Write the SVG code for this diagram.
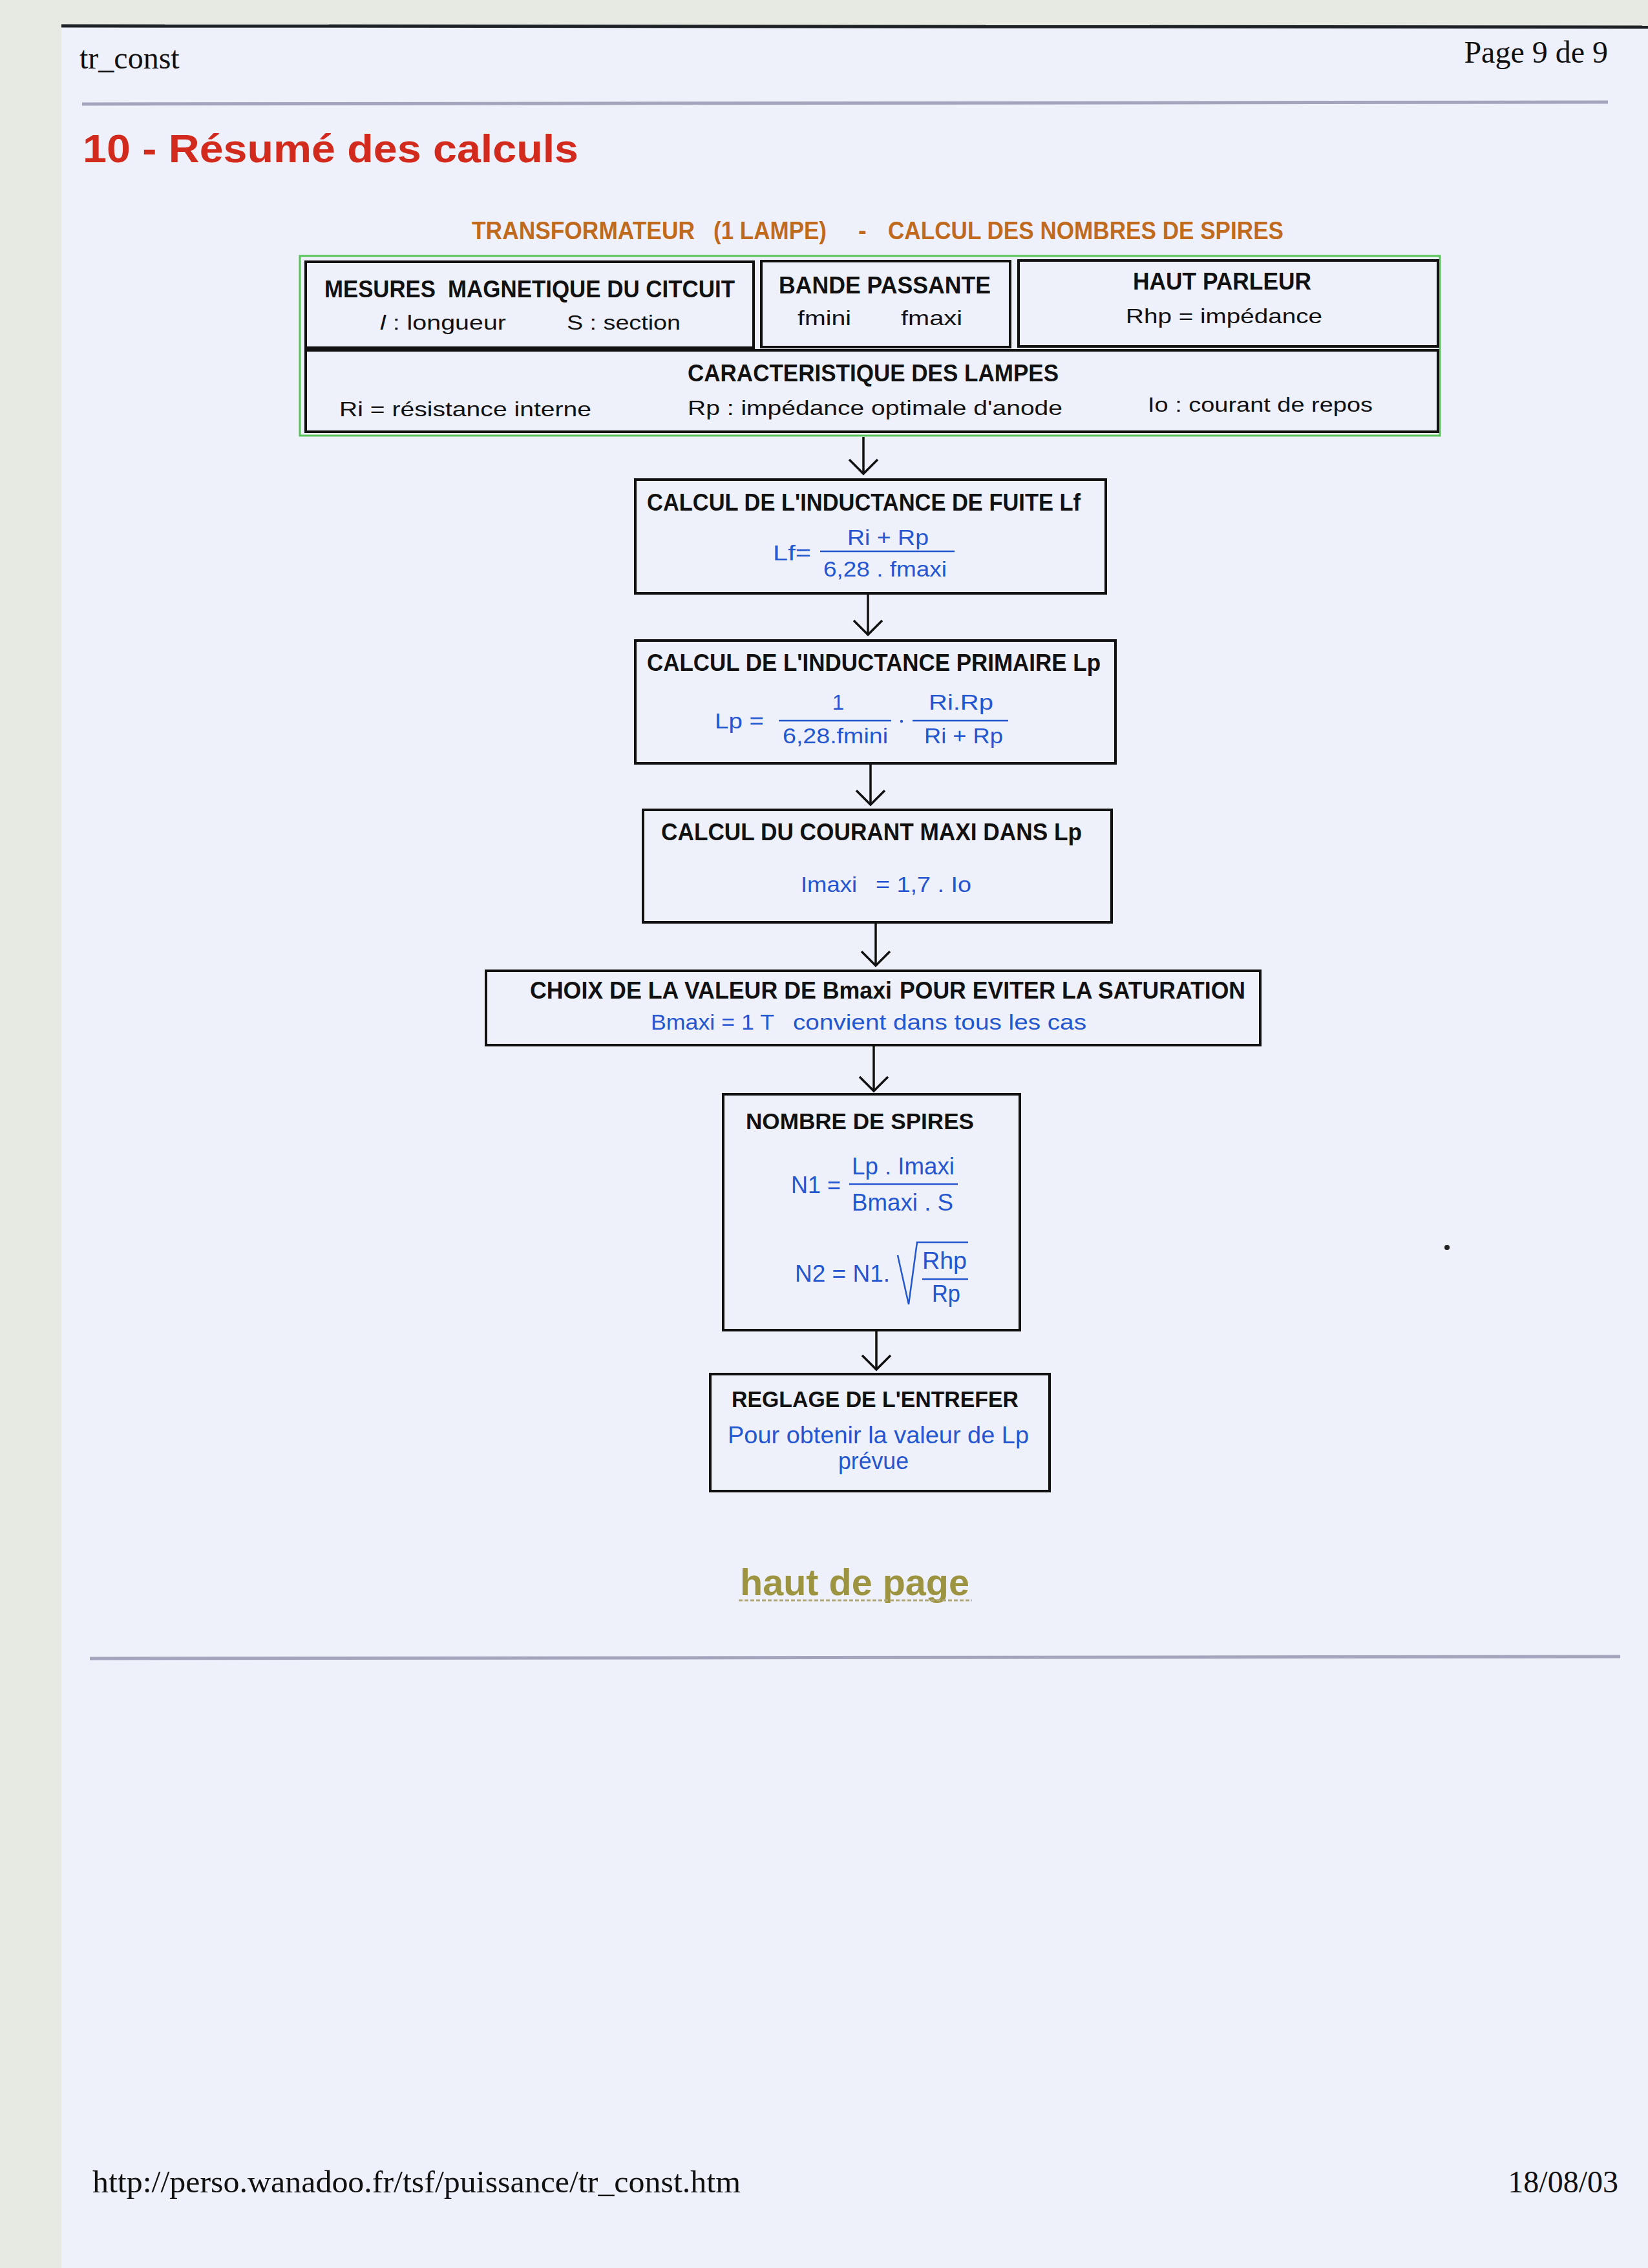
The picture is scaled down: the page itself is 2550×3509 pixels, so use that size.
<svg xmlns="http://www.w3.org/2000/svg" width="2550" height="3509" viewBox="0 0 2550 3509">
<style>
.serif{font-family:"Liberation Serif","Times New Roman",serif;font-size:48px;fill:#111}
.h{font-family:"Liberation Sans",Arial,sans-serif;font-weight:bold;font-size:36px;fill:#111}
.hw{font-family:"Liberation Sans",Arial,sans-serif;font-weight:bold;font-size:35px;fill:#111}
.t{font-family:"Liberation Sans",Arial,sans-serif;font-size:32px;fill:#111}
.f{font-family:"Liberation Sans",Arial,sans-serif;font-size:33px;fill:#2456d0}
.fw{font-family:"Liberation Sans",Arial,sans-serif;font-size:37px;fill:#2456d0}
.box{fill:none;stroke:#111;stroke-width:4}
.fl{stroke:#2456d0;stroke-width:2.5;fill:none}
.conn{stroke:#111;stroke-width:3.5;fill:none}
</style>
<defs>
<marker id="arr" markerUnits="userSpaceOnUse" viewBox="-30 -30 40 60" refX="0" refY="0" markerWidth="40" markerHeight="60" orient="auto" overflow="visible">
<path d="M-22,-22 L0,0 L-22,22" fill="none" stroke="#111" stroke-width="3.5"/>
</marker>
</defs>
<rect x="0" y="0" width="2550" height="3509" fill="#e7e9e3"/>
<rect x="95" y="41" width="2455" height="3468" fill="#eef0fa"/>
<line x1="95" y1="40" x2="2550" y2="42" stroke="#1d2226" stroke-width="5"/>

<g id="header">
<text class="serif" x="123" y="106">tr_const</text>
<text class="serif" x="2488" y="97" text-anchor="end">Page 9 de 9</text>
<line x1="127" y1="161" x2="2488" y2="158" stroke="#a4a4bc" stroke-width="5"/>
<text x="128" y="251" font-family="'Liberation Sans',Arial,sans-serif" font-weight="bold" font-size="62" fill="#d22a1c" textLength="767" lengthAdjust="spacingAndGlyphs">10 - Résumé des calculs</text>
</g>

<g id="subtitle" font-family="'Liberation Sans',Arial,sans-serif" font-weight="bold" font-size="38" fill="#c06a1e">
<text x="730" y="370" textLength="345" lengthAdjust="spacingAndGlyphs">TRANSFORMATEUR</text>
<text x="1104" y="370" textLength="175" lengthAdjust="spacingAndGlyphs">(1 LAMPE)</text>
<text x="1328" y="370">-</text>
<text x="1374" y="370" textLength="612" lengthAdjust="spacingAndGlyphs">CALCUL DES NOMBRES DE SPIRES</text>
</g>

<g id="inputs">
<rect x="464" y="396" width="1764" height="278" fill="none" stroke="#58c458" stroke-width="3"/>
<g id="mesures">
<rect class="box" x="473" y="405" width="693" height="133"/>
<text class="h" x="502" y="460" textLength="172" lengthAdjust="spacingAndGlyphs">MESURES</text>
<text class="h" x="693" y="460" textLength="444" lengthAdjust="spacingAndGlyphs">MAGNETIQUE DU CITCUIT</text>
<text class="t" x="588" y="510" textLength="195" lengthAdjust="spacingAndGlyphs"><tspan font-style="italic">l</tspan> : longueur</text>
<text class="t" x="877" y="510" textLength="176" lengthAdjust="spacingAndGlyphs">S : section</text>
</g>
<g id="bande">
<rect class="box" x="1178" y="404" width="385" height="133"/>
<text class="h" x="1205" y="454" textLength="328" lengthAdjust="spacingAndGlyphs">BANDE PASSANTE</text>
<text class="t" x="1234" y="503" textLength="83" lengthAdjust="spacingAndGlyphs">fmini</text>
<text class="t" x="1394" y="503" textLength="95" lengthAdjust="spacingAndGlyphs">fmaxi</text>
</g>
<g id="hautparleur">
<rect class="box" x="1576" y="403" width="649" height="133"/>
<text class="h" x="1753" y="448" textLength="276" lengthAdjust="spacingAndGlyphs">HAUT PARLEUR</text>
<text class="t" x="1742" y="500" textLength="304" lengthAdjust="spacingAndGlyphs">Rhp = impédance</text>
</g>
<g id="lampes">
<rect class="box" x="473" y="542" width="1752" height="126"/>
<text class="h" x="1064" y="590" textLength="574" lengthAdjust="spacingAndGlyphs">CARACTERISTIQUE DES LAMPES</text>
<text class="t" x="525" y="644" textLength="390" lengthAdjust="spacingAndGlyphs">Ri = résistance interne</text>
<text class="t" x="1064" y="642" textLength="580" lengthAdjust="spacingAndGlyphs">Rp : impédance optimale d'anode</text>
<text class="t" x="1776" y="637" textLength="348" lengthAdjust="spacingAndGlyphs">Io : courant de repos</text>
</g>
</g>

<g id="connectors">
<line class="conn" x1="1336" y1="676" x2="1336" y2="733" marker-end="url(#arr)"/>
<line class="conn" x1="1343" y1="918" x2="1343" y2="982" marker-end="url(#arr)"/>
<line class="conn" x1="1347" y1="1181" x2="1347" y2="1245" marker-end="url(#arr)"/>
<line class="conn" x1="1355" y1="1427" x2="1355" y2="1494" marker-end="url(#arr)"/>
<line class="conn" x1="1352" y1="1617" x2="1352" y2="1688" marker-end="url(#arr)"/>
<line class="conn" x1="1356" y1="2058" x2="1356" y2="2119" marker-end="url(#arr)"/>
</g>

<g id="lf">
<rect class="box" x="983" y="742" width="728" height="176"/>
<text class="h" x="1001" y="790" textLength="671" lengthAdjust="spacingAndGlyphs">CALCUL DE L'INDUCTANCE DE FUITE Lf</text>
<text class="f" x="1196" y="867" textLength="59" lengthAdjust="spacingAndGlyphs">Lf=</text>
<text class="f" x="1311" y="843" textLength="126" lengthAdjust="spacingAndGlyphs">Ri + Rp</text>
<line class="fl" x1="1269" y1="853" x2="1477" y2="853"/>
<text class="f" x="1274" y="892" textLength="191" lengthAdjust="spacingAndGlyphs">6,28 . fmaxi</text>
</g>

<g id="lp">
<rect class="box" x="983" y="991" width="743" height="190"/>
<text class="h" x="1001" y="1038" textLength="702" lengthAdjust="spacingAndGlyphs">CALCUL DE L'INDUCTANCE PRIMAIRE Lp</text>
<text class="f" x="1106" y="1127" textLength="76" lengthAdjust="spacingAndGlyphs">Lp =</text>
<text class="f" x="1297" y="1098" text-anchor="middle">1</text>
<line class="fl" x1="1205" y1="1115" x2="1379" y2="1115"/>
<text class="f" x="1211" y="1150" textLength="163" lengthAdjust="spacingAndGlyphs">6,28.fmini</text>
<circle cx="1395" cy="1116" r="2.2" fill="#2456d0"/>
<line class="fl" x1="1412" y1="1115" x2="1560" y2="1115"/>
<text class="f" x="1437" y="1098" textLength="100" lengthAdjust="spacingAndGlyphs">Ri.Rp</text>
<text class="f" x="1430" y="1150" textLength="122" lengthAdjust="spacingAndGlyphs">Ri + Rp</text>
</g>

<g id="imaxi">
<rect class="box" x="995" y="1253" width="725" height="174"/>
<text class="h" x="1023" y="1300" textLength="651" lengthAdjust="spacingAndGlyphs">CALCUL DU COURANT MAXI DANS Lp</text>
<text class="f" x="1239" y="1380" textLength="87" lengthAdjust="spacingAndGlyphs">Imaxi</text>
<text class="f" x="1355" y="1380" textLength="148" lengthAdjust="spacingAndGlyphs">= 1,7 . Io</text>
</g>

<g id="bmaxi">
<rect class="box" x="752" y="1502" width="1198" height="115"/>
<text class="h" x="820" y="1545" textLength="560" lengthAdjust="spacingAndGlyphs">CHOIX DE LA VALEUR DE Bmaxi</text>
<text class="h" x="1392" y="1545" textLength="535" lengthAdjust="spacingAndGlyphs">POUR EVITER LA SATURATION</text>
<text class="f" x="1007" y="1593" textLength="191" lengthAdjust="spacingAndGlyphs">Bmaxi = 1 T</text>
<text class="f" x="1227" y="1593" textLength="454" lengthAdjust="spacingAndGlyphs">convient dans tous les cas</text>
</g>

<g id="spires">
<rect class="box" x="1119" y="1693" width="459" height="365"/>
<text class="hw" x="1154" y="1747" textLength="353" lengthAdjust="spacingAndGlyphs">NOMBRE DE SPIRES</text>
<text class="fw" x="1224" y="1846" textLength="77" lengthAdjust="spacingAndGlyphs">N1 =</text>
<text class="fw" x="1318" y="1817" textLength="159" lengthAdjust="spacingAndGlyphs">Lp . Imaxi</text>
<line class="fl" x1="1314" y1="1832" x2="1482" y2="1832"/>
<text class="fw" x="1318" y="1873" textLength="157" lengthAdjust="spacingAndGlyphs">Bmaxi . S</text>
<text class="fw" x="1230" y="1983" textLength="147" lengthAdjust="spacingAndGlyphs">N2 = N1.</text>
<polyline class="fl" points="1389,1942 1406,2018 1419,1922 1498,1922"/>
<text class="fw" x="1427" y="1963" textLength="69" lengthAdjust="spacingAndGlyphs">Rhp</text>
<line class="fl" x1="1427" y1="1979" x2="1498" y2="1979"/>
<text class="fw" x="1442" y="2014" textLength="44" lengthAdjust="spacingAndGlyphs">Rp</text>
</g>

<g id="entrefer">
<rect class="box" x="1099" y="2126" width="525" height="181"/>
<text class="hw" x="1132" y="2177" textLength="444" lengthAdjust="spacingAndGlyphs">REGLAGE DE L'ENTREFER</text>
<text class="fw" x="1126" y="2233" textLength="466" lengthAdjust="spacingAndGlyphs">Pour obtenir la valeur de Lp</text>
<text class="fw" x="1297" y="2273" textLength="109" lengthAdjust="spacingAndGlyphs">prévue</text>
</g>

<g id="footer">
<text x="1145" y="2468" font-family="'Liberation Sans',Arial,sans-serif" font-weight="bold" font-size="57" fill="#9c9440" textLength="355" lengthAdjust="spacingAndGlyphs">haut de page</text>
<line x1="1143" y1="2476" x2="1504" y2="2476" stroke="#b0a878" stroke-width="3" stroke-dasharray="6 3"/>
<line x1="139" y1="2566" x2="2507" y2="2563" stroke="#a4a4bc" stroke-width="5"/>
<text class="serif" x="143" y="3392" textLength="1003" lengthAdjust="spacingAndGlyphs">http://perso.wanadoo.fr/tsf/puissance/tr_const.htm</text>
<text class="serif" x="2504" y="3392" text-anchor="end">18/08/03</text>
<circle cx="2239" cy="1930" r="4" fill="#222"/>
</g>
</svg>
